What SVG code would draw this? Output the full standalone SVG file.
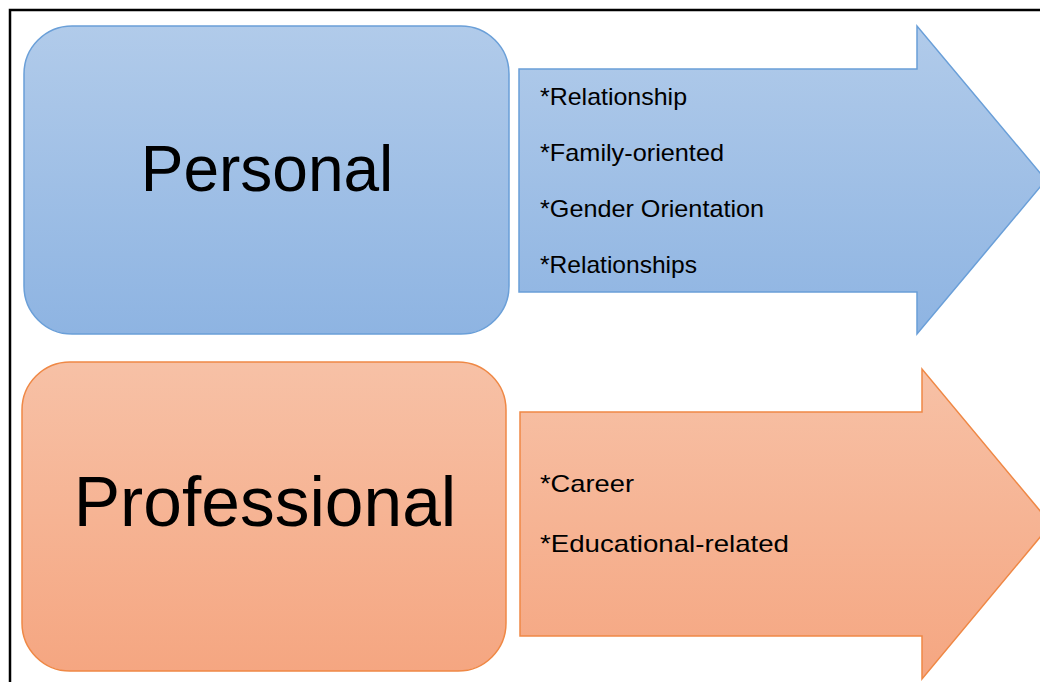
<svg xmlns="http://www.w3.org/2000/svg" width="1040" height="682" viewBox="0 0 1040 682">
<defs>
<linearGradient id="gBlue" x1="0" y1="0" x2="0" y2="1">
<stop offset="0" stop-color="#b1cbea"/>
<stop offset="1" stop-color="#8eb4e2"/>
</linearGradient>
<linearGradient id="gOrange" x1="0" y1="0" x2="0" y2="1">
<stop offset="0" stop-color="#f7c1a6"/>
<stop offset="1" stop-color="#f5a681"/>
</linearGradient>
<style>
.blue{fill:url(#gBlue);stroke:#6a9fd8;stroke-width:1.5}
.orange{fill:url(#gOrange);stroke:#ef8845;stroke-width:1.5}
.big{font-family:"Liberation Sans",Arial,sans-serif;fill:#000;text-anchor:middle}
.item{font-family:"Liberation Sans",Arial,sans-serif;font-size:24px;fill:#000}
</style>
</defs>
<rect x="10" y="10" width="1060" height="700" fill="#fff" stroke="#000" stroke-width="2.5"/>
<g id="personal">
<rect class="blue" x="24" y="26" width="485" height="308" rx="48" ry="48"/>
<text class="big" x="267" y="191" font-size="64">Personal</text>
</g>
<g id="personal-arrow">
<polygon class="blue" points="519,69 917,69 917,26 1046,180 917,334 917,292 519,292"/>
<text class="item" x="540" y="105" textLength="147" lengthAdjust="spacingAndGlyphs">*Relationship</text>
<text class="item" x="540" y="161" textLength="184" lengthAdjust="spacingAndGlyphs">*Family-oriented</text>
<text class="item" x="540" y="217" textLength="224" lengthAdjust="spacingAndGlyphs">*Gender Orientation</text>
<text class="item" x="540" y="273" textLength="157" lengthAdjust="spacingAndGlyphs">*Relationships</text>
</g>
<g id="professional">
<rect class="orange" x="22" y="362" width="484" height="309" rx="48" ry="48"/>
<text class="big" x="265" y="526" font-size="69.5">Professional</text>
</g>
<g id="professional-arrow">
<polygon class="orange" points="520,412 922,412 922,369 1051,524 922,679 922,636 520,636"/>
<text class="item" x="540" y="492" textLength="94" lengthAdjust="spacingAndGlyphs">*Career</text>
<text class="item" x="540" y="552" textLength="249" lengthAdjust="spacingAndGlyphs">*Educational-related</text>
</g>
<g id="connectors"></g>
</svg>
